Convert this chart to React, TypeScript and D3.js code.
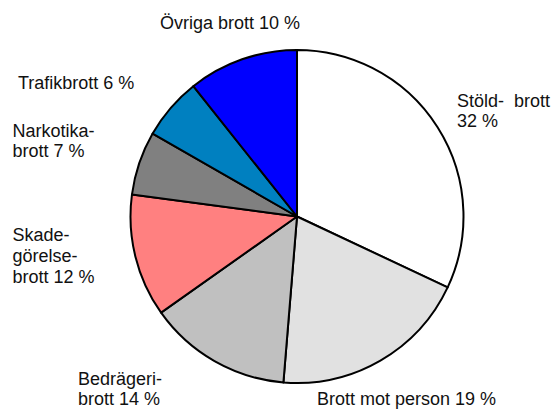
import * as d3 from 'd3';
import React, { useEffect, useRef } from 'react';

// slices clockwise from 12 o'clock (shares)
const categories = ['Stöld', 'Brott mot person', 'Bedrägeri', 'Skadegörelse', 'Narkotika', 'Trafik', 'Övriga'];
const shares = [32, 19.3, 13.9, 11.9, 6.2, 6.0, 10.7];
const colors = ['#ffffff', '#e1e1e1', '#c0c0c0', '#ff8080', '#808080', '#0080c0', '#0000ff'];
const labelLines = [
  ['Stöld-  brott', '32 %'],
  ['Brott mot person 19 %'],
  ['Bedrägeri-', 'brott 14 %'],
  ['Skade-', 'görelse-', 'brott 12 %'],
  ['Narkotika-', 'brott 7 %'],
  ['Trafikbrott 6 %'],
  ['Övriga brott 10 %'],
];

// label anchor (x, first baseline, line gap)
const labelPos = [
  [457, 107, 20], [317, 405, 20], [78, 385, 20], [12.5, 241, 21], [12.5, 137, 19.5], [18, 89, 20], [160, 29, 20],
];

function App() {
  const ref = useRef<SVGSVGElement>(null);

  useEffect(() => {
    const svg = d3.select(ref.current);
    svg.selectAll('*').remove();

    const cx = 297, cy = 216.5, r = 166.5;
    const pie = d3.pie<number>().sort(null).value(d => d);
    const arc = d3.arc<d3.PieArcDatum<number>>().innerRadius(0).outerRadius(r);

    const g = svg.append('g').attr('transform', `translate(${cx},${cy})`);
    g.selectAll('path')
      .data(pie(shares))
      .enter().append('path')
      .attr('d', arc)
      .attr('fill', (d, i) => colors[i])
      .attr('stroke', '#000')
      .attr('stroke-width', 2)
      .attr('stroke-linejoin', 'round');

    // labels
    categories.forEach((c, i) => {
      const [x, y, gap] = labelPos[i];
      const t = svg.append('text')
        .attr('x', x)
        .attr('y', y)
        .attr('font-family', 'Liberation Sans, Arial, sans-serif')
        .attr('font-size', 18)
        .attr('fill', '#111')
        .style('white-space', 'pre');
      labelLines[i].forEach((line, j) => {
        t.append('tspan')
          .attr('x', x)
          .attr('dy', j === 0 ? 0 : gap)
          .text(line);
      });
    });
  }, []);

  return (
    <svg ref={ref} width={555} height={409}
      style={{ position: 'absolute', left: 0, top: 0, background: '#fff' }} />
  );
}

export default App;
